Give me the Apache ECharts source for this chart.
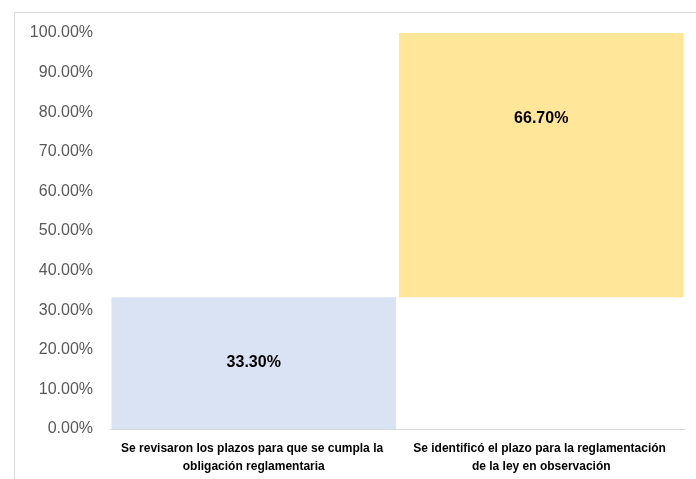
<!DOCTYPE html>
<html>
<head>
<meta charset="utf-8">
<script src="https://cdn.jsdelivr.net/npm/echarts@6/dist/echarts.min.js"></script>
<style>
  html, body { margin: 0; padding: 0; background: #fff; }
  #chart { width: 696px; height: 479px; }
</style>
</head>
<body>
<div id="chart"></div>
<script>
// Share of each finding (percent)
const categories = [
  'Se revisaron los plazos para que se cumpla la obligación reglamentaria',
  'Se identificó el plazo para la reglamentación de la ley en observación'
];
const revisados = [33.3, null];
const identificados = [null, 66.7];
// invisible offset so the second bar starts where the first ends
const offset = [0, 33.3];
const yTicks = { min: 0, max: 100, interval: 10 };

const chart = echarts.init(document.getElementById('chart'), null, { renderer: 'canvas' });

const labelFont = {
  show: true,
  fontFamily: 'Liberation Sans',
  fontWeight: 'bold',
  fontSize: 16,
  color: '#000',
  formatter: p => p.value.toFixed(2) + '%'
};

chart.setOption({
  animation: false,
  graphic: [{
    type: 'rect',
    left: 12, top: 10,
    shape: { width: 720, height: 520 },
    style: { fill: 'none', stroke: '#d9d9d9', lineWidth: 1 },
    silent: true
  }],
  grid: { left: 110, right: 11, top: 33, bottom: 50, containLabel: false },
  xAxis: {
    type: 'category',
    data: categories,
    axisTick: { show: false },
    axisLine: { lineStyle: { color: '#d9d9d9', width: 1 } },
    axisLabel: {
      interval: 0,
      margin: 11,
      width: 266,
      overflow: 'break',
      fontFamily: 'Liberation Sans',
      fontWeight: 'bold',
      fontSize: 12,
      lineHeight: 18,
      color: '#000'
    }
  },
  yAxis: {
    type: 'value',
    min: yTicks.min,
    max: yTicks.max,
    interval: yTicks.interval,
    axisLine: { show: false },
    axisTick: { show: false },
    splitLine: { show: false },
    axisLabel: {
      margin: 17,
      fontFamily: 'Liberation Sans',
      fontSize: 16,
      color: '#595959',
      formatter: v => v.toFixed(2) + '%'
    }
  },
  series: [
    {
      name: 'base',
      type: 'bar',
      stack: 'total',
      data: offset,
      itemStyle: { color: 'transparent' },
      barCategoryGap: '1%',
      silent: true
    },
    {
      name: 'Revisados',
      type: 'bar',
      stack: 'total',
      data: revisados,
      itemStyle: { color: '#dae3f3' },
      label: Object.assign({ position: 'inside' }, labelFont)
    },
    {
      name: 'Identificados',
      type: 'bar',
      stack: 'total',
      data: identificados,
      itemStyle: { color: '#ffe699' },
      label: Object.assign({ position: 'insideTop', distance: 78 }, labelFont)
    }
  ]
});
</script>
</body>
</html>
